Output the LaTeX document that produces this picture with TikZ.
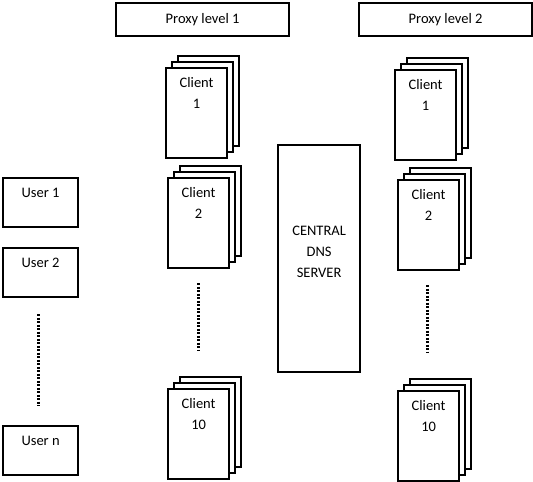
\documentclass[tikz,border=0pt]{standalone}
\usepackage{fontspec}
\setmainfont{Carlito}
\usetikzlibrary{positioning}
\begin{document}
\begin{tikzpicture}[
	x = 1pt, y = -1pt,
	font = \fontsize{14.5}{21}\selectfont,
	box/.style = {draw, line width = 2.2pt, fill = white, anchor = north west, inner sep = 0pt},
	page/.style = {box, minimum width = 61pt, minimum height = 90pt},
	userbox/.style = {box, minimum width = 75pt, minimum height = 49pt},
	proxybox/.style = {box, minimum width = 173pt, minimum height = 33pt},
	caption/.style = {inner sep = 0pt, align = center},
	dots/.style = {line width = 3pt, dash pattern = on 2pt off 1.5pt}
]

\useasboundingbox (0, 0) rectangle (533, 482);

\node[proxybox] (proxy1) at (115, 2) {Proxy level 1};
\node[proxybox] (proxy2) at (358, 2) {Proxy level 2};

\foreach \name/\y/\txt in {user1/177/User 1, user2/247/User 2, usern/425/User n} {
	\node[userbox] (\name) at (2, \y) {};
	\node[caption, below = 11pt of \name.north] (\name t) {\txt};
}

\foreach \name/\x/\y/\txt in {p1c1/165/67/1, p1c2/167/177/2, p1c10/167/388/10, p2c1/394/69/1, p2c2/397/179/2, p2c10/397/390/10} {
	\foreach \d in {12, 6}
		\node[page] (\name b\d) at (\x + \d, \y - \d) {};
	\node[page] (\name) at (\x, \y) {};
	\node[caption, below = 10pt of \name.north] (\name t) {Client\\\txt};
}

\node[box, minimum width = 82pt, minimum height = 227pt] (dns) at (277, 144) {};
\node[caption, yshift = 7pt] (dnst) at (dns.center) {CENTRAL\\DNS\\SERVER};

\foreach \name/\x/\ya/\yb in {user/38/314/406, p1/198/283/350, p2/427/285/353} {
	\coordinate (\name top) at (\x, \ya);
	\coordinate (\name bot) at (\x, \yb);
	\draw[dots] (\name top) -- (\name bot);
}
\end{tikzpicture}
\end{document}
